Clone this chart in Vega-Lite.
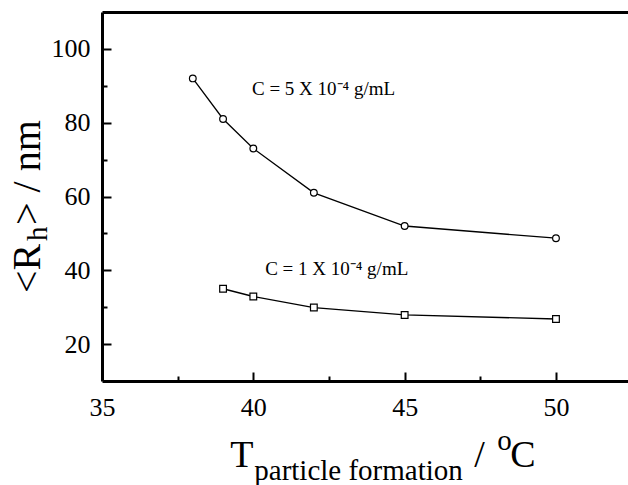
{
  "$schema": "https://vega.github.io/schema/vega-lite/v6.json",
  "width": 526,
  "height": 369,
  "autosize": {"type": "none"},
  "padding": {"left": 102, "top": 12, "right": 0, "bottom": 104},
  "background": "white",
  "config": {
    "view": {"stroke": null},
    "font": "Liberation Serif",
    "axis": {
      "grid": false,
      "domainColor": "black",
      "domainWidth": 3,
      "tickColor": "black",
      "tickWidth": 2,
      "labelColor": "black",
      "labelFont": "Liberation Serif",
      "labelFontSize": 26,
      "labelFlush": false,
      "title": null
    }
  },
  "datasets": {
    "series": [
      {"conc": "5e-4", "T": 38, "R": 92},
      {"conc": "5e-4", "T": 39, "R": 81},
      {"conc": "5e-4", "T": 40, "R": 73},
      {"conc": "5e-4", "T": 42, "R": 61},
      {"conc": "5e-4", "T": 45, "R": 52},
      {"conc": "5e-4", "T": 50, "R": 48.7},
      {"conc": "1e-4", "T": 39, "R": 35},
      {"conc": "1e-4", "T": 40, "R": 32.9},
      {"conc": "1e-4", "T": 42, "R": 29.9},
      {"conc": "1e-4", "T": 45, "R": 27.9},
      {"conc": "1e-4", "T": 50, "R": 26.8}
    ],
    "notes": [
      {"T": 39.955, "R": 87.5, "label": "C = 5 X 10⁻⁴ g/mL"},
      {"T": 40.39, "R": 38.7, "label": "C = 1 X 10⁻⁴ g/mL"}
    ],
    "xTitleBig": [
      {"T": 39.239, "R": -13.22, "label": "T"},
      {"T": 47.299, "R": -13.22, "label": "/"},
      {"T": 48.488, "R": -13.22, "label": "C"}
    ],
    "xTitleSmall": [
      {"T": 40.031, "R": -16.83, "label": "particle formation"},
      {"T": 48.06, "R": -8.7, "label": "o"}
    ],
    "yTitleBig": [
      {"T": 32.96, "R": 33.85, "label": "<R"},
      {"T": 32.96, "R": 52.28, "label": "> / nm"}
    ],
    "yTitleSmall": [
      {"T": 33.19, "R": 47.94, "label": "h"}
    ]
  },
  "resolve": {"axis": {"x": "independent", "y": "independent"}},
  "layer": [
    {
      "data": {"name": "series"},
      "mark": {"type": "line", "color": "black", "strokeWidth": 1.3},
      "encoding": {
        "x": {
          "field": "T", "type": "quantitative",
          "scale": {"domain": [35, 52.38], "nice": false, "zero": false},
          "axis": {"orient": "bottom", "values": [35, 40, 45, 50], "ticks": false, "labelPadding": 13, "labelFlush": false, "labelFont": "Liberation Serif"}
        },
        "y": {
          "field": "R", "type": "quantitative",
          "scale": {"domain": [10, 110], "nice": false, "zero": false},
          "axis": {"orient": "left", "values": [20, 40, 60, 80, 100], "ticks": false, "labelPadding": 12, "labelFlush": false, "labelFont": "Liberation Serif"}
        },
        "detail": {"field": "conc"}
      }
    },
    {
      "data": {"name": "series"},
      "mark": {"type": "point", "fill": "white", "stroke": "black", "strokeWidth": 1.2, "size": 45, "opacity": 1},
      "encoding": {
        "x": {
          "field": "T", "type": "quantitative",
          "scale": {"domain": [35, 52.38], "nice": false, "zero": false},
          "axis": {"orient": "top", "labels": false, "ticks": false, "domainWidth": 3}
        },
        "y": {
          "field": "R", "type": "quantitative",
          "scale": {"domain": [10, 110], "nice": false, "zero": false},
          "axis": {"orient": "left", "values": [20, 40, 60, 80, 100], "labels": false, "domain": false, "tickSize": 8, "offset": -9}
        },
        "shape": {
          "field": "conc", "type": "nominal",
          "scale": {"domain": ["5e-4", "1e-4"], "range": ["circle", "square"]},
          "legend": null
        }
      }
    },
    {
      "data": {"name": "notes"},
      "mark": {"type": "text", "fontSize": 19, "align": "left", "baseline": "alphabetic", "color": "black"},
      "encoding": {
        "x": {"field": "T", "type": "quantitative", "scale": {"domain": [35, 52.38], "nice": false, "zero": false},
          "axis": {"orient": "bottom", "values": [35, 40, 45, 50], "labels": false, "domain": false, "tickSize": 8, "offset": -9}},
        "y": {"field": "R", "type": "quantitative", "scale": {"domain": [10, 110], "nice": false, "zero": false},
          "axis": {"orient": "left", "values": [30, 50, 70, 90], "labels": false, "domain": false, "tickSize": 4, "offset": -5}},
        "text": {"field": "label"}
      }
    },
    {
      "data": {"name": "xTitleBig"},
      "mark": {"type": "text", "fontSize": 38, "align": "left", "baseline": "alphabetic", "color": "black"},
      "encoding": {
        "x": {"field": "T", "type": "quantitative", "scale": {"domain": [35, 52.38], "nice": false, "zero": false},
          "axis": {"orient": "bottom", "values": [37.5, 42.5, 47.5], "labels": false, "domain": false, "tickSize": 4, "offset": -5}},
        "y": {"field": "R", "type": "quantitative", "scale": {"domain": [10, 110], "nice": false, "zero": false}, "axis": null},
        "text": {"field": "label"}
      }
    },
    {
      "data": {"name": "xTitleSmall"},
      "mark": {"type": "text", "fontSize": 29, "align": "left", "baseline": "alphabetic", "color": "black"},
      "encoding": {
        "x": {"field": "T", "type": "quantitative", "scale": {"domain": [35, 52.38], "nice": false, "zero": false}, "axis": null},
        "y": {"field": "R", "type": "quantitative", "scale": {"domain": [10, 110], "nice": false, "zero": false}, "axis": null},
        "text": {"field": "label"}
      }
    },
    {
      "data": {"name": "yTitleBig"},
      "mark": {"type": "text", "fontSize": 40, "align": "left", "baseline": "alphabetic", "angle": 270, "color": "black"},
      "encoding": {
        "x": {"field": "T", "type": "quantitative", "scale": {"domain": [35, 52.38], "nice": false, "zero": false}, "axis": null},
        "y": {"field": "R", "type": "quantitative", "scale": {"domain": [10, 110], "nice": false, "zero": false}, "axis": null},
        "text": {"field": "label"}
      }
    },
    {
      "data": {"name": "yTitleSmall"},
      "mark": {"type": "text", "fontSize": 29, "align": "left", "baseline": "alphabetic", "angle": 270, "color": "black"},
      "encoding": {
        "x": {"field": "T", "type": "quantitative", "scale": {"domain": [35, 52.38], "nice": false, "zero": false}, "axis": null},
        "y": {"field": "R", "type": "quantitative", "scale": {"domain": [10, 110], "nice": false, "zero": false}, "axis": null},
        "text": {"field": "label"}
      }
    }
  ]
}
